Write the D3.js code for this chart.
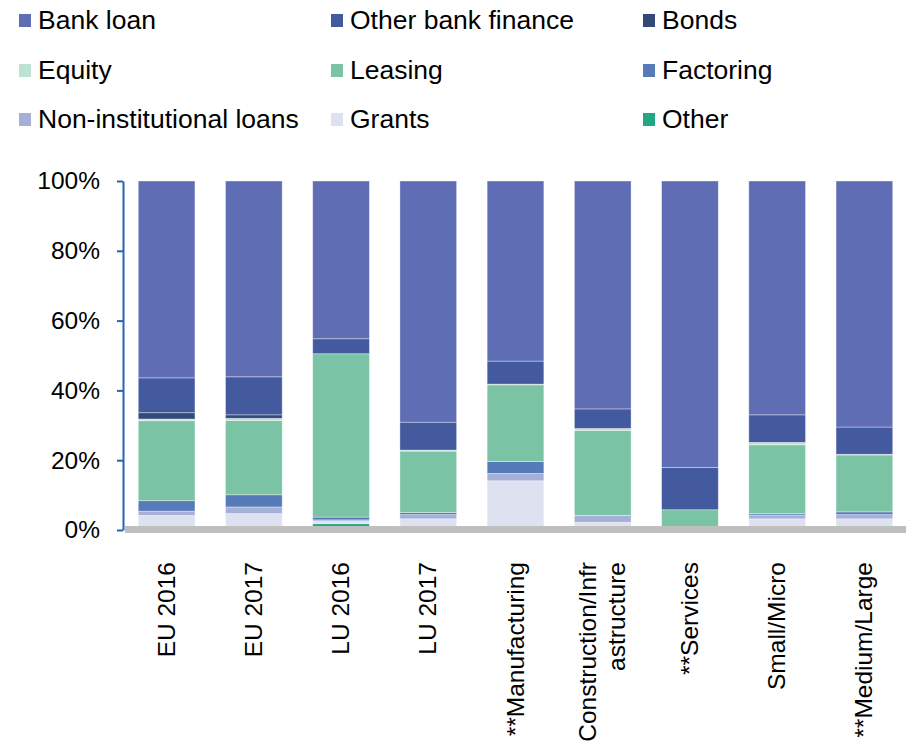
<!DOCTYPE html>
<html>
<head>
<meta charset="utf-8">
<script src="https://cdn.jsdelivr.net/npm/d3@7/dist/d3.min.js"></script>
<style>
  html, body { margin: 0; padding: 0; background: #ffffff; }
  svg { display: block; font-family: "Liberation Sans", Arial, sans-serif; }
</style>
</head>
<body>
<svg id="chart" width="906" height="749"></svg>
<script>
// Categories (a "\n" marks a forced line break in the axis label)
const categories = ["EU 2016", "EU 2017", "LU 2016", "LU 2017", "**Manufacturing",
  "Construction/Infr\nastructure", "**Services", "Small/Micro", "**Medium/Large"];

// Shares of financing source per category, in percent (stacked bottom to top)
const other          = [0,    0,    1.8,  0,    0,    0,    0,    0,    0];
const grants         = [4.2,  4.7,  0.7,  3.2,  14.1, 2.2,  0,    3.2,  3.2];
const nonInstLoans   = [1.2,  1.9,  0.4,  1.2,  2.1,  2.0,  0,    1.1,  1.2];
const factoring      = [3.0,  3.5,  0.8,  0.6,  3.4,  0,    0,    0.4,  0.8];
const leasing        = [22.9, 21.3, 46.8, 17.6, 22.0, 24.3, 5.8,  19.7, 16.3];
const equity         = [0.5,  0.6,  0,    0.3,  0.2,  0.6,  0,    0.7,  0.2];
const bonds          = [1.8,  1.0,  0,    0,    0,    0,    0,    0,    0];
const otherBankFin   = [10.0, 10.9, 4.3,  8.0,  6.6,  5.6,  12.1, 7.9,  7.8];
const bankLoan       = [56.4, 56.1, 45.2, 69.1, 51.6, 65.3, 82.1, 67.0, 70.5];

const yTicks = [0, 20, 40, 60, 80, 100];

// Series in stacking order (bottom first)
const series = [
  { name: "Other",                   values: other,        color: "#1fa882" },
  { name: "Grants",                  values: grants,       color: "#dde1f0" },
  { name: "Non-institutional loans", values: nonInstLoans, color: "#a5b0d8" },
  { name: "Factoring",               values: factoring,    color: "#567bb8" },
  { name: "Leasing",                 values: leasing,      color: "#7bc3a5" },
  { name: "Equity",                  values: equity,       color: "#bce2d1" },
  { name: "Bonds",                   values: bonds,        color: "#324a79" },
  { name: "Other bank finance",      values: otherBankFin, color: "#445a9f" },
  { name: "Bank loan",               values: bankLoan,     color: "#5f6db5" }
];

// Legend order (row by row, three columns)
const legendOrder = ["Bank loan", "Other bank finance", "Bonds",
  "Equity", "Leasing", "Factoring",
  "Non-institutional loans", "Grants", "Other"];

const svg = d3.select("#chart");
const axisFont = 24.5;
const legendFont = 26.5;

const x = d3.scaleBand()
  .domain(categories)
  .range([123, 908])
  .paddingInner(0.35)
  .paddingOuter(0.175);

const y = d3.scaleLinear().domain([0, 100]).range([530, 181]);

// Build stacked layout
const rows = categories.map((c, i) => {
  const r = { category: c };
  series.forEach(s => { r[s.name] = s.values[i]; });
  return r;
});
const stack = d3.stack().keys(series.map(s => s.name));
const stacked = stack(rows);
const colorOf = new Map(series.map(s => [s.name, s.color]));

// Bars
const layers = svg.append("g").selectAll("g")
  .data(stacked)
  .join("g")
  .attr("fill", d => colorOf.get(d.key));

layers.selectAll("rect")
  .data(d => d.filter(p => p[1] - p[0] > 0))
  .join("rect")
  .attr("x", d => x(d.data.category))
  .attr("width", x.bandwidth())
  .attr("y", d => y(d[1]))
  .attr("height", d => y(d[0]) - y(d[1]))
  .attr("stroke", "rgba(255,255,255,0.45)")
  .attr("stroke-width", 0.8);

// Grey floor under the columns
svg.append("rect")
  .attr("x", 125)
  .attr("y", 526)
  .attr("width", 781)
  .attr("height", 7)
  .attr("fill", "#bfbfbf");

// Y axis
const yAxis = d3.axisLeft(y)
  .tickValues(yTicks)
  .tickFormat(d => d + "%")
  .tickSizeInner(6)
  .tickSizeOuter(0)
  .tickPadding(17);

const yg = svg.append("g")
  .attr("transform", "translate(123,0)")
  .call(yAxis);
yg.select(".domain").attr("stroke", "#2a63b3").attr("stroke-width", 2);
yg.selectAll(".tick line").attr("stroke", "#2a63b3").attr("stroke-width", 2);
yg.selectAll(".tick text")
  .attr("fill", "#000")
  .style("font-size", axisFont + "px")
  .style("font-family", "'Liberation Sans', Arial, sans-serif");

// X axis labels, rotated
const xl = svg.append("g");
categories.forEach(c => {
  const lines = c.split("\n");
  const cx = x(c) + x.bandwidth() / 2;
  const lineGap = 29;
  lines.forEach((ln, k) => {
    const off = (k - (lines.length - 1) / 2) * lineGap;
    xl.append("text")
      .attr("transform", `translate(${cx + off + 8},562) rotate(-90)`)
      .attr("text-anchor", "end")
      .attr("fill", "#000")
      .style("font-size", axisFont + "px")
      .text(ln);
  });
});

// Legend
const legendTextX = [38, 350, 662];
const legendRows = [20, 70, 119];
const legend = svg.append("g");
legendOrder.forEach((name, i) => {
  const tx = legendTextX[i % 3];
  const ly = legendRows[Math.floor(i / 3)];
  legend.append("rect")
    .attr("x", tx - 19)
    .attr("y", ly - 6)
    .attr("width", 12)
    .attr("height", 13)
    .attr("fill", colorOf.get(name));
  legend.append("text")
    .attr("x", tx)
    .attr("y", ly)
    .attr("dy", "0.35em")
    .attr("fill", "#000")
    .style("font-size", legendFont + "px")
    .text(name);
});
</script>
</body>
</html>
